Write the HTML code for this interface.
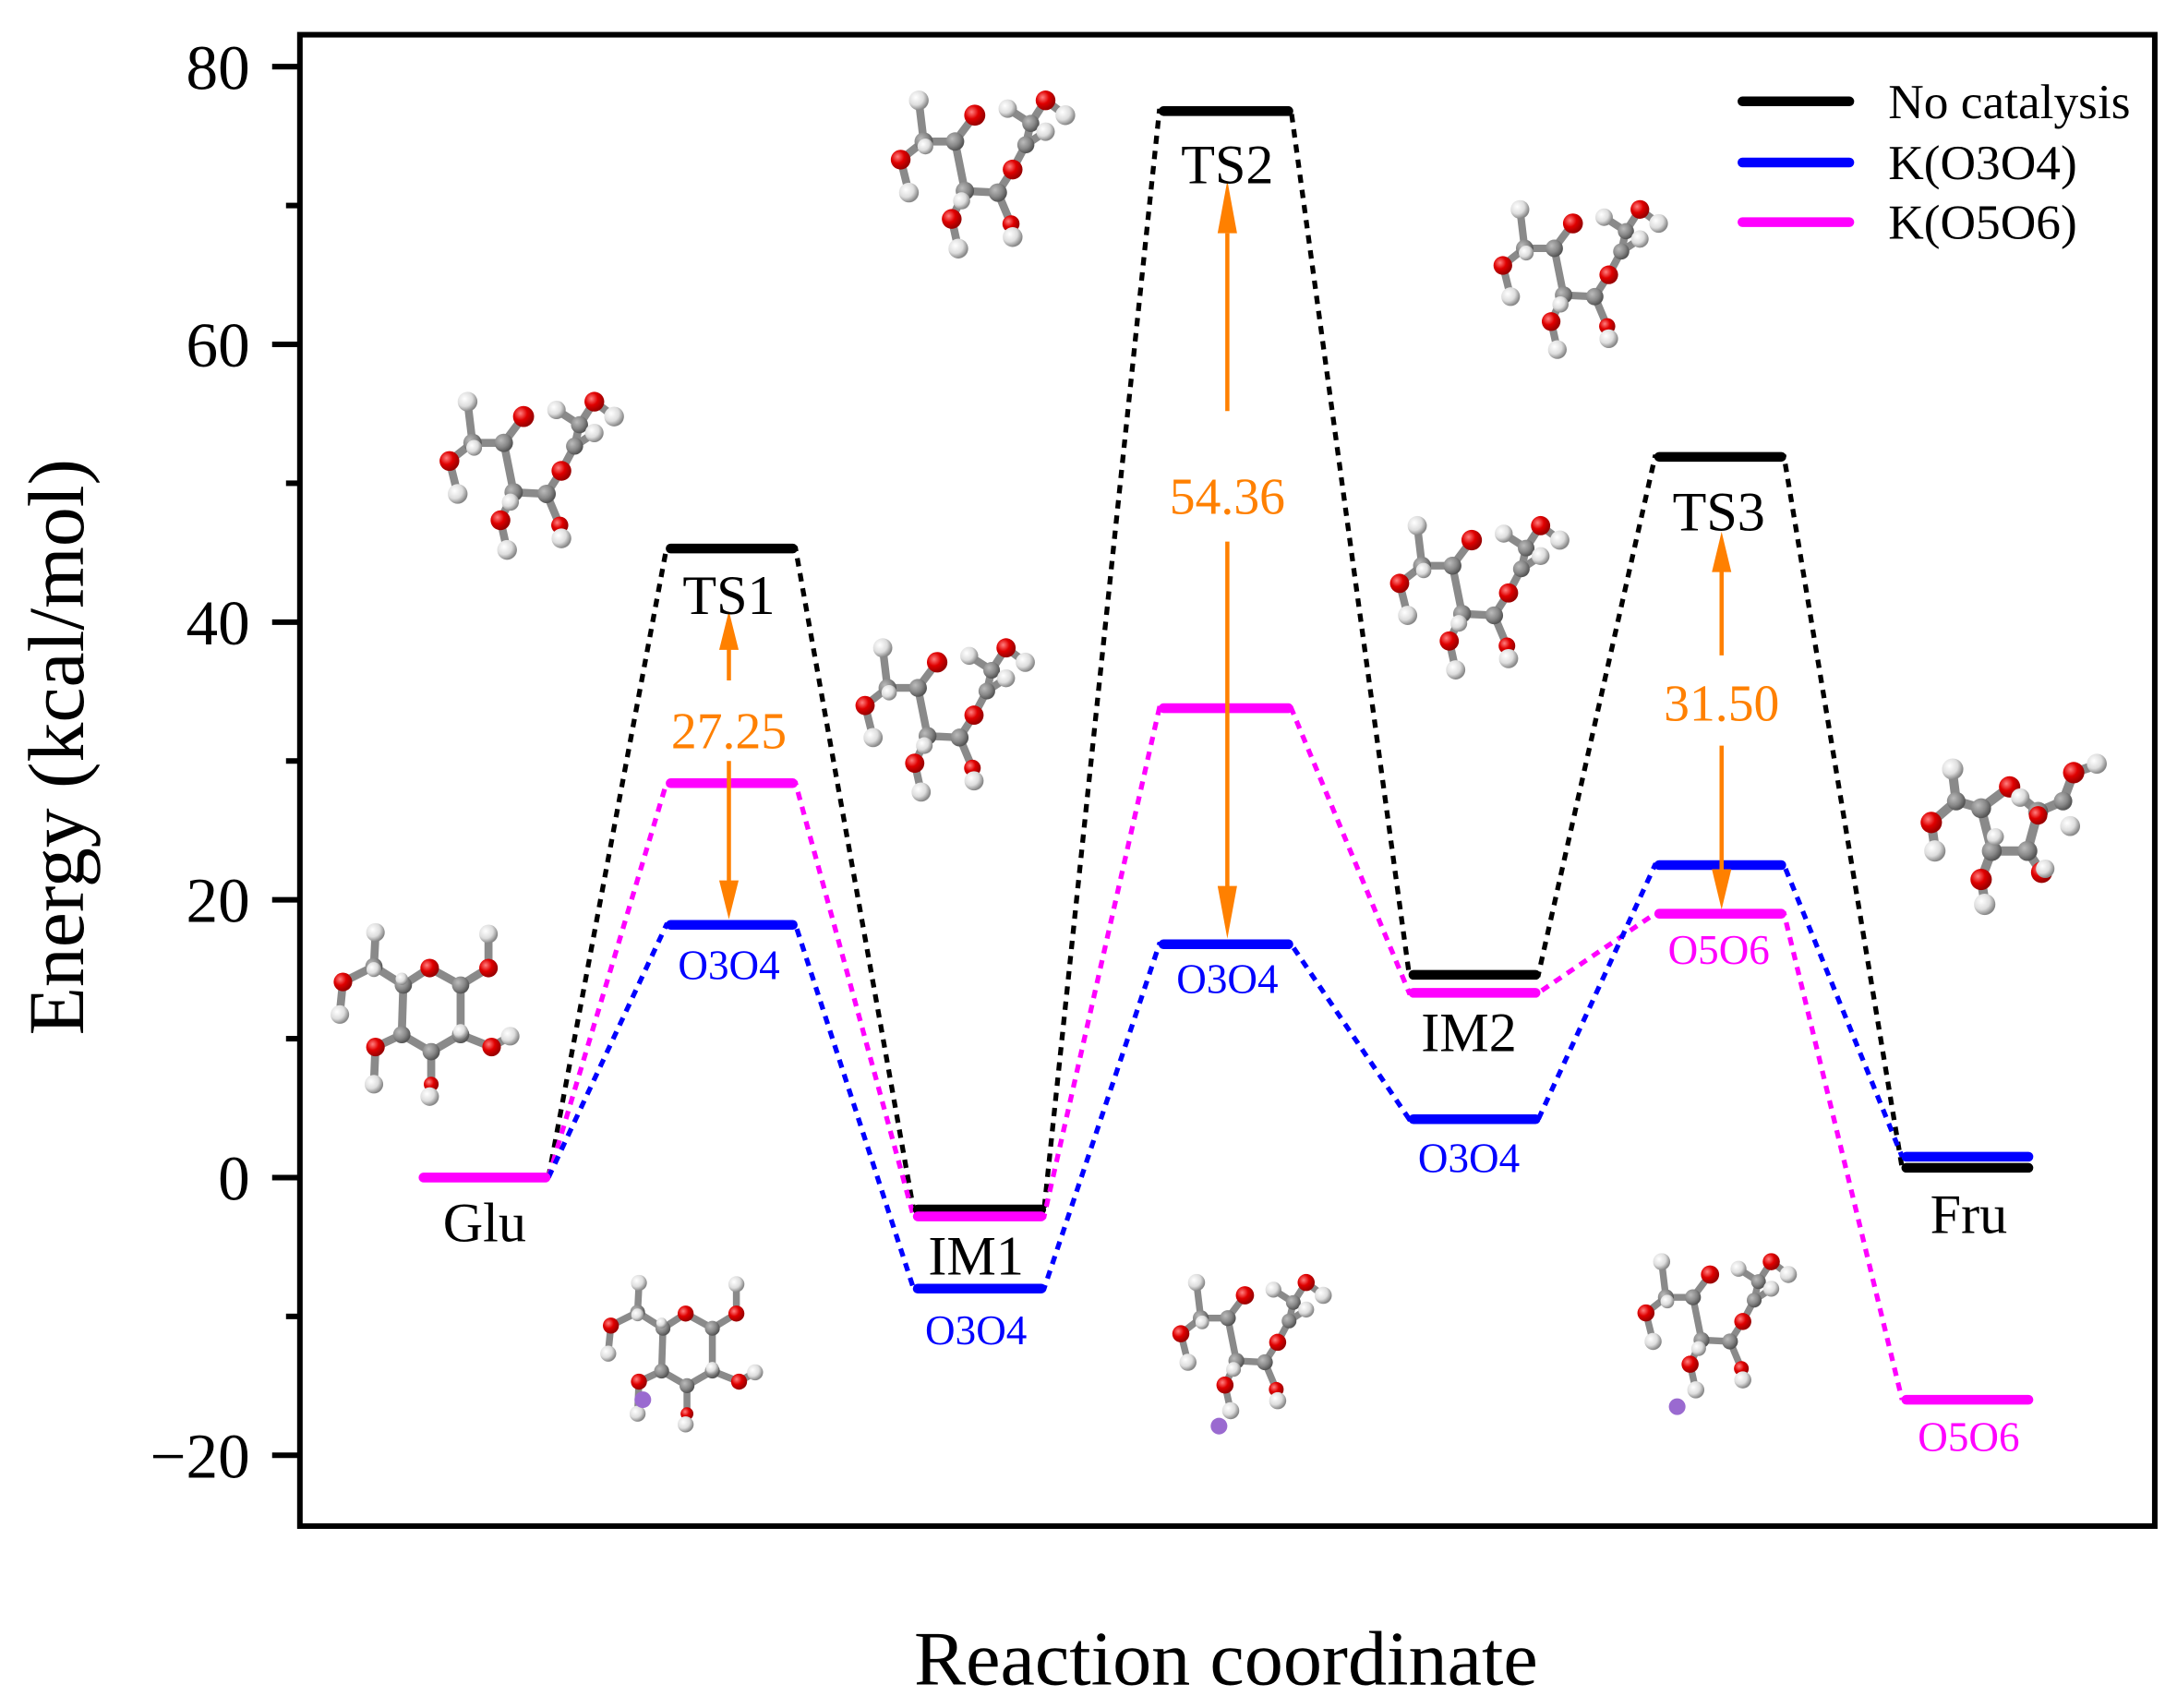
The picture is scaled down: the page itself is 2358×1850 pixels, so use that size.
<!DOCTYPE html>
<html><head><meta charset="utf-8"><style>html,body{margin:0;padding:0;background:#fff}svg{display:block}</style></head>
<body>
<svg width="2358" height="1850" viewBox="0 0 1568 1230" preserveAspectRatio="none" xmlns="http://www.w3.org/2000/svg" font-family="Liberation Serif, serif">
<defs>
<radialGradient id="gr" cx="35%" cy="35%" r="65%"><stop offset="0" stop-color="#ff8080"/><stop offset="0.5" stop-color="#e00000"/><stop offset="1" stop-color="#900"/></radialGradient>
<radialGradient id="gw" cx="35%" cy="35%" r="65%"><stop offset="0" stop-color="#fff"/><stop offset="0.6" stop-color="#ddd"/><stop offset="1" stop-color="#888"/></radialGradient>
<radialGradient id="gg" cx="35%" cy="35%" r="65%"><stop offset="0" stop-color="#bbb"/><stop offset="0.6" stop-color="#888"/><stop offset="1" stop-color="#555"/></radialGradient>
<symbol id="ring" viewBox="0 0 780 780">
<g stroke="#8a8a8a" stroke-width="26" fill="none" stroke-linecap="round">
<path d="M325 320 L410 265 L510 320 L510 480 L415 535 L320 480 Z M325 320 L230 260 L130 310 L120 410 M230 260 L235 160 M510 320 L600 265 L600 160 M510 480 L610 520 L670 485 M415 535 L415 640 L410 680 M320 480 L235 520 L230 640"/>
</g>
<g fill="url(#gg)"><circle cx="325" cy="320" r="28"/><circle cx="510" cy="320" r="28"/><circle cx="510" cy="480" r="28"/><circle cx="415" cy="535" r="28"/><circle cx="320" cy="480" r="28"/><circle cx="230" cy="260" r="28"/></g>
<g fill="url(#gr)"><circle cx="410" cy="265" r="30"/><circle cx="130" cy="310" r="30"/><circle cx="600" cy="265" r="30"/><circle cx="610" cy="520" r="30"/><circle cx="415" cy="640" r="24"/><circle cx="235" cy="520" r="30"/></g>
<g fill="url(#gw)"><circle cx="235" cy="150" r="30"/><circle cx="600" cy="155" r="30"/><circle cx="120" cy="415" r="30"/><circle cx="670" cy="485" r="30"/><circle cx="410" cy="680" r="30"/><circle cx="230" cy="640" r="30"/><circle cx="320" cy="300" r="20"/><circle cx="510" cy="470" r="24"/><circle cx="230" cy="270" r="24"/></g>
</symbol>
<symbol id="fura" viewBox="0 0 780 780">
<g stroke="#8a8a8a" stroke-width="26" fill="none" stroke-linecap="round">
<path d="M300 320 L380 260 L460 330 L430 440 L330 440 Z M300 320 L230 300 L160 360 L170 430 M230 300 L220 220 M460 330 L530 300 L560 220 L620 200 M430 440 L470 500 M330 440 L300 520 L310 580"/>
</g>
<g fill="url(#gg)"><circle cx="300" cy="320" r="28"/><circle cx="460" cy="330" r="28"/><circle cx="430" cy="440" r="28"/><circle cx="330" cy="440" r="28"/><circle cx="230" cy="300" r="26"/><circle cx="530" cy="300" r="26"/></g>
<g fill="url(#gr)"><circle cx="380" cy="260" r="30"/><circle cx="160" cy="360" r="30"/><circle cx="560" cy="220" r="30"/><circle cx="470" cy="500" r="30"/><circle cx="300" cy="520" r="30"/><circle cx="460" cy="340" r="26"/></g>
<g fill="url(#gw)"><circle cx="220" cy="210" r="30"/><circle cx="170" cy="440" r="30"/><circle cx="625" cy="195" r="28"/><circle cx="310" cy="590" r="30"/><circle cx="410" cy="290" r="26"/><circle cx="550" cy="370" r="28"/><circle cx="480" cy="490" r="26"/><circle cx="340" cy="400" r="24"/></g>
</symbol>
<symbol id="chain" viewBox="0 0 780 780">
<g stroke="#8a8a8a" stroke-width="24" fill="none" stroke-linecap="round">
<path d="M155 115 L170 240 L100 295 L125 395 M170 240 L265 240 L325 160 M265 240 L295 390 L255 475 L275 565 M295 390 L395 395 L435 490 L440 530 M395 395 L440 325 L480 250 L495 185 L540 115 L600 160 M495 185 L425 140 M480 250 L540 210"/>
</g>
<g fill="url(#gg)"><circle cx="170" cy="240" r="28"/><circle cx="265" cy="240" r="28"/><circle cx="295" cy="390" r="28"/><circle cx="395" cy="395" r="28"/><circle cx="480" cy="250" r="26"/><circle cx="495" cy="185" r="26"/></g>
<g fill="url(#gr)"><circle cx="100" cy="295" r="30"/><circle cx="325" cy="160" r="32"/><circle cx="255" cy="475" r="30"/><circle cx="435" cy="490" r="26"/><circle cx="440" cy="325" r="30"/><circle cx="540" cy="115" r="30"/></g>
<g fill="url(#gw)"><circle cx="155" cy="115" r="30"/><circle cx="125" cy="395" r="30"/><circle cx="275" cy="565" r="30"/><circle cx="440" cy="530" r="30"/><circle cx="600" cy="160" r="30"/><circle cx="425" cy="140" r="28"/><circle cx="540" cy="210" r="28"/><circle cx="285" cy="420" r="26"/><circle cx="175" cy="255" r="24"/></g>
</symbol>
</defs>

<!-- axes -->
<rect x="216" y="25" width="1336" height="1074" fill="none" stroke="#000" stroke-width="4"/>
<g stroke="#000" stroke-width="4">
<line x1="196" y1="48" x2="216" y2="48"/><line x1="196" y1="248" x2="216" y2="248"/><line x1="196" y1="448" x2="216" y2="448"/><line x1="196" y1="648" x2="216" y2="648"/><line x1="196" y1="848" x2="216" y2="848"/><line x1="196" y1="1048" x2="216" y2="1048"/>
<line x1="206" y1="148" x2="216" y2="148"/><line x1="206" y1="348" x2="216" y2="348"/><line x1="206" y1="548" x2="216" y2="548"/><line x1="206" y1="748" x2="216" y2="748"/><line x1="206" y1="948" x2="216" y2="948"/>
</g>
<g font-size="46" text-anchor="end" fill="#000">
<text x="180" y="64">80</text><text x="180" y="264">60</text><text x="180" y="464">40</text><text x="180" y="664">20</text><text x="180" y="864">0</text><text x="180" y="1064">−20</text>
</g>
<text transform="translate(60,538) rotate(-90)" font-size="57" text-anchor="middle">Energy (kcal/mol)</text>
<text x="883" y="1213" font-size="56" text-anchor="middle">Reaction coordinate</text>

<!-- molecules -->
<use href="#ring" x="218" y="638" width="174" height="174"/>
<use href="#chain" x="300" y="262" width="185" height="185"/>
<use href="#chain" x="625" y="45" width="185" height="185"/>
<use href="#chain" x="1060" y="125" width="175" height="175"/>
<use href="#chain" x="600" y="440" width="180" height="180"/>
<use href="#chain" x="985" y="352" width="180" height="180"/>
<use href="#fura" x="1350" y="500" width="200" height="200"/>
<use href="#ring" x="415" y="895" width="150" height="150"/>
<use href="#chain" x="830" y="900" width="160" height="160"/>
<use href="#chain" x="1165" y="885" width="160" height="160"/>
<g fill="#9a6ad0"><circle cx="463" cy="1008" r="6"/><circle cx="878" cy="1027" r="6"/><circle cx="1208" cy="1013" r="6"/></g>

<!-- connectors -->
<g fill="none" stroke-width="3.5" stroke-dasharray="6 5">
<polyline stroke="#000" points="395,848 480,395 573,395 658,871 752,871 835,80 930,80 1015,702 1108,702 1192,329 1285,329 1370,841"/>
<polyline stroke="#ff00ff" points="395,848 480,564 573,564 658,876 752,876 835,510 930,510 1015,715 1108,715 1192,658 1285,658 1370,1008"/>
<polyline stroke="#0000ff" points="395,848 480,666 573,666 658,928 752,928 835,680 930,680 1015,806 1108,806 1192,623 1285,623 1370,833"/>
</g>
<!-- levels -->
<g stroke-width="7" stroke-linecap="round">
<g stroke="#000"><line x1="483" y1="395" x2="571" y2="395"/><line x1="661" y1="871" x2="750" y2="871"/><line x1="838" y1="80" x2="928" y2="80"/><line x1="1018" y1="702" x2="1106" y2="702"/><line x1="1195" y1="329" x2="1283" y2="329"/><line x1="1373" y1="841" x2="1461" y2="841"/></g>
<g stroke="#ff00ff"><line x1="305" y1="848" x2="393" y2="848"/><line x1="483" y1="564" x2="571" y2="564"/><line x1="661" y1="876" x2="750" y2="876"/><line x1="838" y1="510" x2="928" y2="510"/><line x1="1018" y1="715" x2="1106" y2="715"/><line x1="1195" y1="658" x2="1283" y2="658"/><line x1="1373" y1="1008" x2="1461" y2="1008"/></g>
<g stroke="#0000ff"><line x1="483" y1="666" x2="571" y2="666"/><line x1="661" y1="928" x2="750" y2="928"/><line x1="838" y1="680" x2="928" y2="680"/><line x1="1018" y1="806" x2="1106" y2="806"/><line x1="1195" y1="623" x2="1283" y2="623"/><line x1="1373" y1="833" x2="1461" y2="833"/></g>
</g>

<!-- arrows -->
<g stroke="#ff8000" stroke-width="3" fill="#ff8000">
<line x1="525" y1="490" x2="525" y2="466"/><polygon points="518,468 532,468 525,440" stroke="none"/>
<line x1="525" y1="548" x2="525" y2="636"/><polygon points="518,634 532,634 525,662" stroke="none"/>
<line x1="884" y1="296" x2="884" y2="168"/><polygon points="877,168 891,168 884,130" stroke="none"/>
<line x1="884" y1="390" x2="884" y2="640"/><polygon points="877,638 891,638 884,676" stroke="none"/>
<line x1="1240" y1="472" x2="1240" y2="410"/><polygon points="1233,412 1247,412 1240,383" stroke="none"/>
<line x1="1240" y1="537" x2="1240" y2="628"/><polygon points="1233,626 1247,626 1240,655" stroke="none"/>
</g>
<g fill="#ff8000" font-size="37" text-anchor="middle">
<text x="525" y="539">27.25</text><text x="884" y="370">54.36</text><text x="1240" y="519">31.50</text>
</g>

<!-- labels -->
<g font-size="40" text-anchor="middle" fill="#000">
<text x="525" y="442">TS1</text><text x="349" y="894">Glu</text><text x="703" y="918">IM1</text><text x="884" y="132">TS2</text><text x="1058" y="757">IM2</text><text x="1238" y="382">TS3</text><text x="1418" y="888">Fru</text>
</g>
<g font-size="30" text-anchor="middle">
<text x="525" y="705" fill="#0000ff">O3O4</text><text x="703" y="968" fill="#0000ff">O3O4</text><text x="884" y="715" fill="#0000ff">O3O4</text><text x="1058" y="844" fill="#0000ff">O3O4</text>
<text x="1238" y="694" fill="#ff00ff">O5O6</text><text x="1418" y="1045" fill="#ff00ff">O5O6</text>
</g>

<!-- legend -->
<g stroke-width="7" stroke-linecap="round">
<line x1="1255" y1="73" x2="1332" y2="73" stroke="#000"/>
<line x1="1255" y1="117" x2="1332" y2="117" stroke="#0000ff"/>
<line x1="1255" y1="160" x2="1332" y2="160" stroke="#ff00ff"/>
</g>
<g font-size="35.5" fill="#000">
<text x="1360" y="85">No catalysis</text><text x="1360" y="129">K(O3O4)</text><text x="1360" y="172">K(O5O6)</text>
</g>
</svg>
</body></html>
